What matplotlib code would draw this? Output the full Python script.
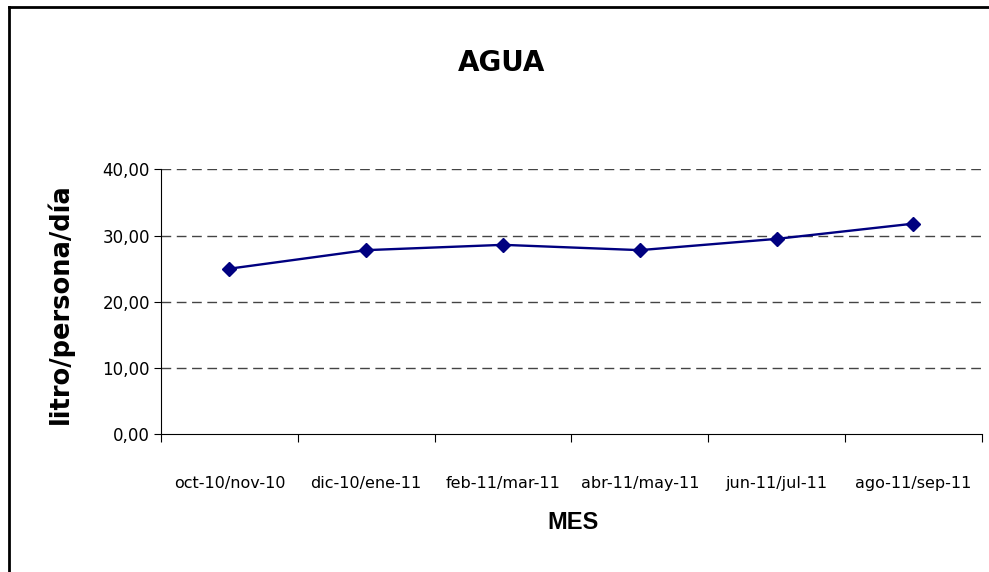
"""
Consumo de agua por persona y por día
"""
import matplotlib
matplotlib.use('Agg')
import matplotlib.pyplot as plt
from matplotlib.lines import Line2D

# datos
periodos = ['oct-10/nov-10', 'dic-10/ene-11', 'feb-11/mar-11',
            'abr-11/may-11', 'jun-11/jul-11', 'ago-11/sep-11']
consumo = [25.0, 27.8, 28.6, 27.8, 29.5, 31.8]
y_ticks = [0, 10, 20, 30, 40]

fig = plt.figure(figsize=(9.89, 5.72), dpi=100)
ax = fig.add_axes([0.1628, 0.2407, 0.830, 0.4633])

x = list(range(len(periodos)))
ax.plot(x, consumo, color='#000080', linewidth=1.7, marker='D',
        markersize=7.5, markerfacecolor='#000080', markeredgecolor='#000080')

# ejes
ax.set_xlim(-0.5, len(periodos) - 0.5)
ax.set_ylim(0, 40)
ax.set_yticks(y_ticks)
ax.set_yticklabels([f'{v:.2f}'.replace('.', ',') for v in y_ticks], fontsize=12)
ax.set_xticks(x)
ax.set_xticklabels(periodos, fontsize=11.5)
ax.tick_params(axis='x', length=0, pad=30)
ax.set_xticks([i - 0.5 for i in range(len(periodos) + 1)], minor=True)
ax.tick_params(axis='x', which='minor', length=6, width=0.8, direction='out')
ax.tick_params(axis='y', length=5, width=0.8, pad=3)

for s in ['top', 'right']:
    ax.spines[s].set_visible(False)
ax.spines['left'].set_linewidth(0.8)
ax.spines['bottom'].set_linewidth(0.8)

# rejilla discontinua
for v in y_ticks[1:]:
    ax.axhline(v, color='#444444', linestyle=(0, (7, 4)), linewidth=1.0, zorder=0)

fig.text(0.507, 0.89, 'AGUA', ha='center', va='center', fontsize=20,
         fontweight='bold')
fig.text(0.061, 0.47, 'litro/persona/día', ha='center', va='center',
         rotation=90, fontsize=18.5, fontweight='bold')
fig.text(0.579, 0.087, 'MES', ha='center', va='center', fontsize=17,
         fontweight='bold', family='Liberation Sans')

# marco del gráfico
fig.add_artist(Line2D([0.009, 0.009], [0, 0.988], color='black', linewidth=2,
                      transform=fig.transFigure))
fig.add_artist(Line2D([0.009, 1], [0.988, 0.988], color='black', linewidth=2,
                      transform=fig.transFigure))

plt.savefig('out.png', dpi=100)
plt.close()
